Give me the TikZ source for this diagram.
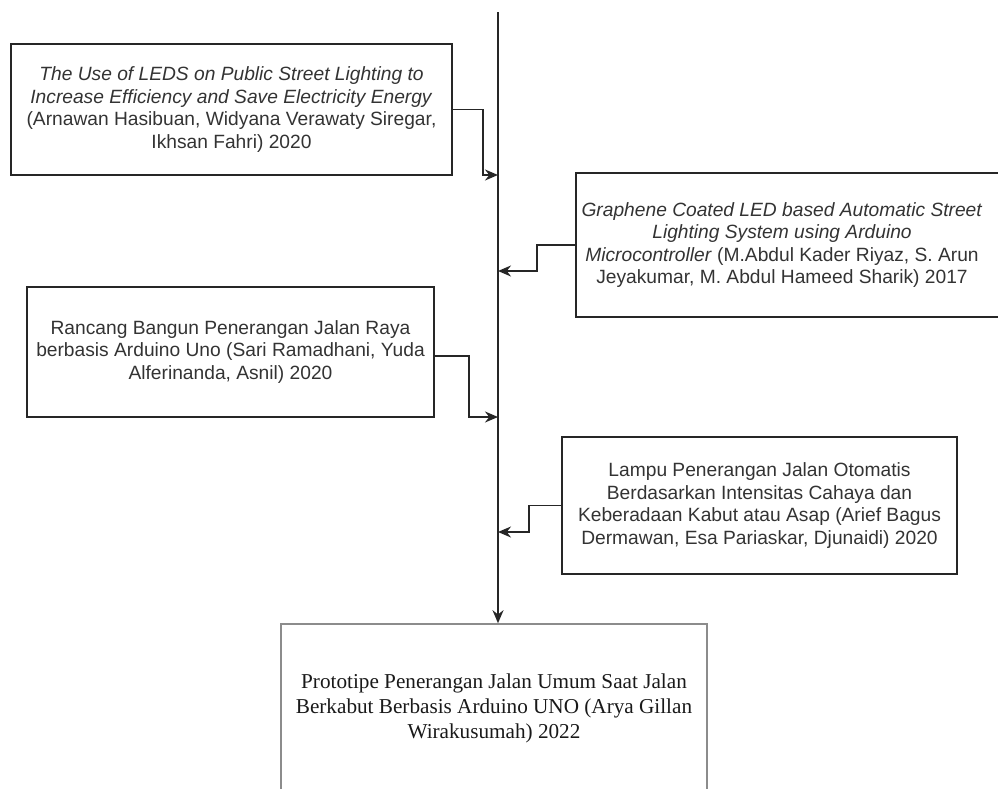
\documentclass[tikz,border=0pt]{standalone}
\usepackage{fontspec}
\setmainfont{Liberation Sans}
\newfontfamily\timesfont{Liberation Serif}
\usetikzlibrary{arrows.meta,calc}
\definecolor{txtgray}{RGB}{51,51,51}
\tikzstyle{ref}=[draw=black!85,line width=1.8pt,text=txtgray,align=center,
                inner sep=0pt,font=\fontsize{19.2}{22.5}\selectfont]
\tikzstyle{thesis}=[draw=black!45,line width=1.6pt,text=black!90,align=center,
                inner sep=0pt,font=\timesfont\fontsize{21.2}{25}\selectfont]
\tikzstyle{link}=[draw=black!85,line width=1.8pt,-{Stealth[length=13pt,width=11pt]}]

\begin{document}
\begin{tikzpicture}[x=1pt,y=-1pt]
\useasboundingbox (0,0) rectangle (998,788);
\clip (0,0) rectangle (998,788);
% previous research
\node (b1) [ref,minimum width=441,minimum height=131] at (231.5,109.5)
  {\textit{The Use of LEDS on Public Street Lighting to}\\
   \textit{Increase Efficiency and Save Electricity Energy}\\
   (Arnawan Hasibuan, Widyana Verawaty Siregar,\\
   Ikhsan Fahri) 2020};
\node (b2) [ref,draw=none,minimum width=410,minimum height=142] at (782,245)
  {\textit{Graphene Coated LED based Automatic Street}\\
   \textit{Lighting System using Arduino}\\
   \textit{Microcontroller} (M.Abdul Kader Riyaz, S. Arun\\
   Jeyakumar, M. Abdul Hameed Sharik) 2017};
\draw[ref] (b2.north west) rectangle ($(b2.south east)+(30,0)$);
\node (b3) [ref,minimum width=407,minimum height=130] at (230.5,352)
  {Rancang Bangun Penerangan Jalan Raya\\
   berbasis Arduino Uno (Sari Ramadhani, Yuda\\
   Alferinanda, Asnil) 2020};
\node (b4) [ref,minimum width=395,minimum height=137] at (759.5,505.5)
  {Lampu Penerangan Jalan Otomatis\\
   Berdasarkan Intensitas Cahaya dan\\
   Keberadaan Kabut atau Asap (Arief Bagus\\
   Dermawan, Esa Pariaskar, Djunaidi) 2020};
% this research
\node (b5) [thesis,minimum width=426,minimum height=168] at (494,708)
  {Prototipe Penerangan Jalan Umum Saat Jalan\\
   Berkabut Berbasis Arduino UNO (Arya Gillan\\
   Wirakusumah) 2022};
% time line
\coordinate (top) at (498,12);
\coordinate (j1) at (498,175);
\coordinate (j2) at (498,271);
\coordinate (j3) at (498,417);
\coordinate (j4) at (498,532);
\draw[link] (top) -- (b5.north -| top);
\draw[link] (b1.east) -- ++(30,0) |- (j1);
\draw[link] (b2.west) -- ++(-39,0) |- (j2);
\draw[link] ($(b3.east)+(0,4)$) -- ++(34,0) |- (j3);
\draw[link] (b4.west) -- ++(-32,0) |- (j4);
\end{tikzpicture}
\end{document}
